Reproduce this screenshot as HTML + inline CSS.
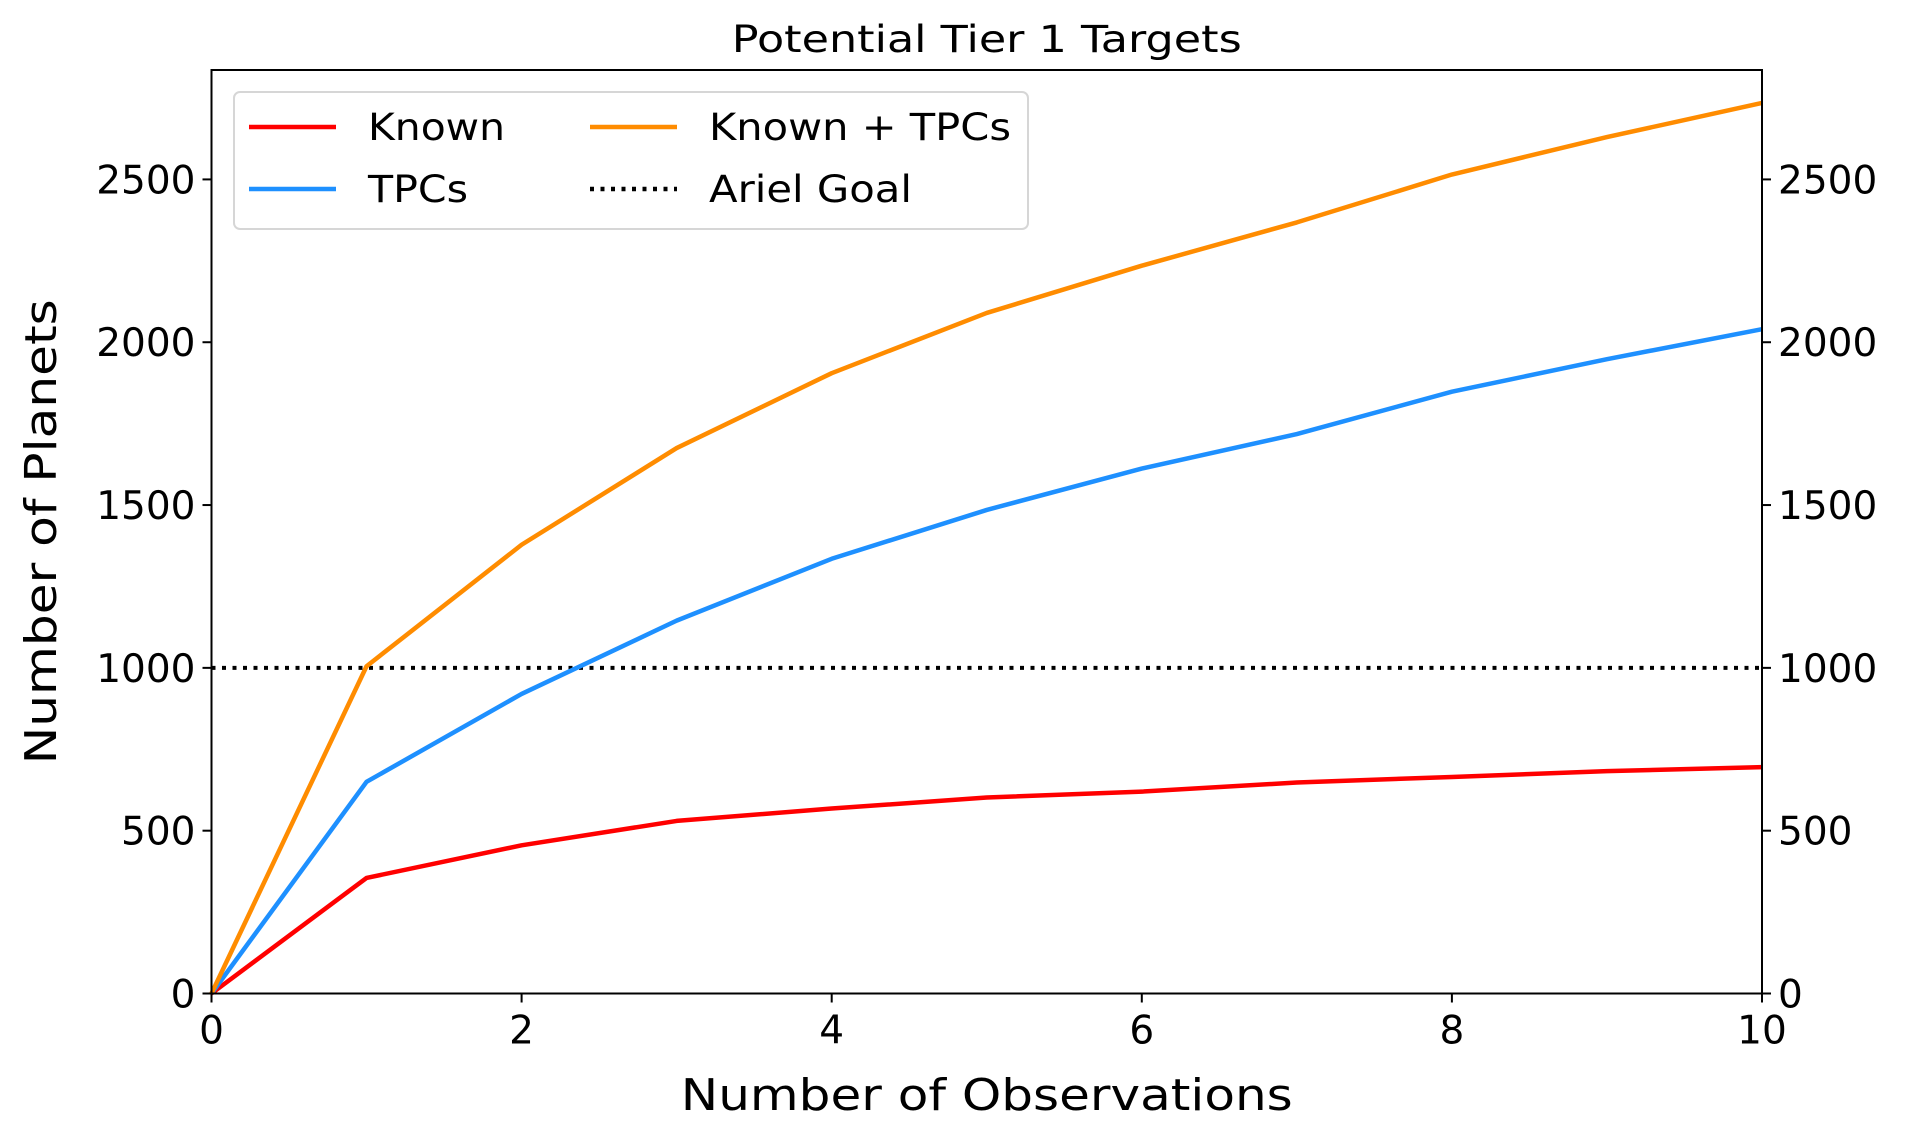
<!DOCTYPE html>
<html><head><meta charset="utf-8"><style>
html,body{margin:0;padding:0;background:#fff;}
svg{display:block;font-family:"DejaVu Sans","Liberation Sans",sans-serif;}
</style></head><body>
<svg id="chart" width="1914" height="1136" viewBox="0 0 1914 1136">
<rect width="1914" height="1136" fill="#fff"/>
<g id="plot"></g>
</svg>
<script>
const xValues = [0,1,2,3,4,5,6,7,8,9,10];
const knownValues = [0,355,455,530,568,602,620,648,665,683,695];
const tpcValues = [0,650,920,1145,1335,1485,1612,1718,1848,1948,2040];
const combinedValues = [0,1005,1378,1675,1905,2090,2235,2368,2515,2630,2735];
const goalValue = 1000;
const xTicks = [0,2,4,6,8,10];
const yTicks = [0,500,1000,1500,2000,2500];

const L=211.5,R=1762,T=70,B=993.5,XMAX=10,YMAX=2836;
const sx=v=>L+(R-L)*v/XMAX;
const sy=v=>B-(B-T)*v/YMAX;
const NS='http://www.w3.org/2000/svg';
const g=document.getElementById('plot');
function mk(tag,attrs,parent){const e=document.createElementNS(NS,tag);for(const k in attrs)e.setAttribute(k,attrs[k]);(parent||g).appendChild(e);return e;}

let gl=mk('line',{x1:sx(0),x2:sx(XMAX),y1:sy(goalValue),y2:sy(goalValue),stroke:'#000','stroke-width':4,'stroke-dasharray':'4,6.5'});



function series(vals,color,name){
  const p=mk('polyline',{points:vals.map((v,i)=>sx(xValues[i])+','+sy(v)).join(' '),fill:'none',stroke:color,'stroke-width':4.5,'stroke-linejoin':'round'});
  
  
}
series(knownValues,'#ff0000','known-line');
series(tpcValues,'#1e90ff','tpcs-line');
series(combinedValues,'#ff8c00','known-plus-tpcs-line');

let fr=mk('rect',{x:L,y:T,width:R-L,height:B-T,fill:'none',stroke:'#000','stroke-width':2});



xTicks.forEach(t=>{
  const tk=mk('line',{x1:sx(t),x2:sx(t),y1:B,y2:B+9,stroke:'#000','stroke-width':2});
  
  
  const tx=mk('text',{x:sx(t),y:B+50,'font-size':39,'text-anchor':'middle'});
  tx.textContent=t;
  
  
});
yTicks.forEach(t=>{
  const a=mk('line',{x1:L-9,x2:L,y1:sy(t),y2:sy(t),stroke:'#000','stroke-width':2});
  
  
  const b=mk('line',{x1:R,x2:R+9,y1:sy(t),y2:sy(t),stroke:'#000','stroke-width':2});
  
  
  const l=mk('text',{x:L-16,y:sy(t)+14,'font-size':39,'text-anchor':'end'});
  l.textContent=t;
  
  
  const r=mk('text',{x:R+16,y:sy(t)+14,'font-size':39,'text-anchor':'start'});
  r.textContent=t;
  
  
});

let title=mk('text',{x:(L+R)/2,y:52,'font-size':37,'text-anchor':'middle',textLength:510,lengthAdjust:'spacingAndGlyphs'});
title.textContent='Potential Tier 1 Targets';



let xl=mk('text',{x:(L+R)/2,y:1110,'font-size':44,'text-anchor':'middle',textLength:612,lengthAdjust:'spacingAndGlyphs'});
xl.textContent='Number of Observations';



let yl=mk('text',{x:0,y:0,'font-size':44,'text-anchor':'middle',textLength:465,lengthAdjust:'spacingAndGlyphs',transform:'translate(56,'+((T+B)/2)+') rotate(-90)'});
yl.textContent='Number of Planets';



const lg=mk('g',{});


mk('rect',{x:234,y:92,width:794,height:137,rx:6,fill:'#fff','fill-opacity':0.8,stroke:'#d6d6d6','stroke-width':2},lg);
const entries=[['Known','#ff0000',249,127,false,137],['TPCs','#1e90ff',249,189,false,100],['Known + TPCs','#ff8c00',590,127,false,302],['Ariel Goal','#000',590,189,true,203]];
entries.forEach(e=>{
  const eg=mk('g',{},lg);
  
  
  const a={x1:e[2],x2:e[2]+87,y1:e[3],y2:e[3],stroke:e[1],'stroke-width':4.5};
  if(e[4])a['stroke-dasharray']='4,6.5';
  mk('line',a,eg);
  const t=mk('text',{x:e[2]+119,y:e[3]+13,'font-size':37,textLength:e[5],lengthAdjust:'spacingAndGlyphs'},eg);
  t.textContent=e[0];
});
</script>
</body></html>
